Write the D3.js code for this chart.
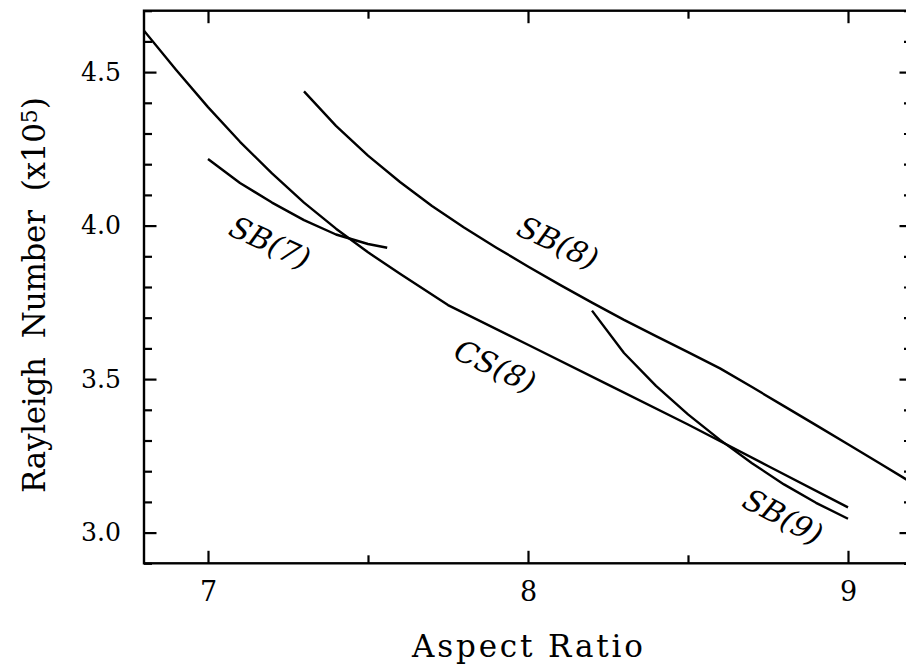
<!DOCTYPE html>
<html>
<head>
<meta charset="utf-8">
<script src="https://cdn.jsdelivr.net/npm/d3@7"></script>
<style>
  html, body { margin: 0; padding: 0; background: #fff; }
  svg { display: block; }
  text { font-family: "DejaVu Serif", serif; fill: #000; }
</style>
</head>
<body>
<svg id="chart"></svg>
<script>
// aspect ratio (x) vs Rayleigh number in units of 1e5 (y)
const cs8X = [6.8, 6.9, 7.0, 7.1, 7.2, 7.3, 7.4, 7.5, 7.6, 7.75, 8.0, 8.25, 8.5, 8.75, 9.0];
const cs8Y = [4.635, 4.508, 4.386, 4.273, 4.17, 4.075, 3.99, 3.913, 3.843, 3.741, 3.612, 3.482, 3.352, 3.217, 3.082];

const sb7X = [7.0, 7.1, 7.2, 7.3, 7.4, 7.5, 7.56];
const sb7Y = [4.217, 4.139, 4.075, 4.018, 3.971, 3.94, 3.928];

const sb8X = [7.3, 7.4, 7.5, 7.6, 7.7, 7.8, 7.9, 8.0, 8.1, 8.2, 8.3, 8.4, 8.5, 8.6, 8.7, 8.8, 8.9, 9.0, 9.1, 9.2];
const sb8Y = [4.437, 4.325, 4.228, 4.142, 4.064, 3.994, 3.929, 3.867, 3.807, 3.749, 3.693, 3.64, 3.588, 3.535, 3.474, 3.412, 3.35, 3.288, 3.225, 3.162];

const sb9X = [8.2, 8.3, 8.4, 8.5, 8.6, 8.7, 8.8, 8.9, 9.0];
const sb9Y = [3.723, 3.585, 3.478, 3.385, 3.302, 3.226, 3.157, 3.097, 3.045];

const curveNames = ["CS(8)", "SB(7)", "SB(8)", "SB(9)"];

const xMajor = [7, 8, 9];
const xMinor = [7.5, 8.5];
const yMajor = [3.0, 3.5, 4.0, 4.5];
const yMinor = [2.9, 3.1, 3.2, 3.3, 3.4, 3.6, 3.7, 3.8, 3.9, 4.1, 4.2, 4.3, 4.4, 4.6, 4.7];

const xTitle = "Aspect Ratio";
const yTitle = "Rayleigh  Number  (x10";

// where the curve names sit, in data units, and their tilt
const labelX = [7.897, 7.194, 8.094, 8.797];
const labelY = [3.542, 3.944, 3.944, 3.052];
const labelAngle = [25, 25, 25, 28];

const W = 906, H = 671;
const plotLeft = 144, plotRight = 912, plotTop = 10.7, plotBottom = 563.3;

const svg = d3.select("#chart").attr("width", W).attr("height", H);

const x = d3.scaleLinear().domain([6.8, 9.2]).range([plotLeft, plotRight]);
const y = d3.scaleLinear().domain([2.9, 4.7]).range([plotBottom, plotTop]);

const series = [
  d3.zip(cs8X, cs8Y),
  d3.zip(sb7X, sb7Y),
  d3.zip(sb8X, sb8Y),
  d3.zip(sb9X, sb9Y)
];

svg.append("clipPath").attr("id", "plot")
  .append("rect")
  .attr("x", plotLeft).attr("y", plotTop)
  .attr("width", plotRight - plotLeft).attr("height", plotBottom - plotTop);

const line = d3.line()
  .x((d) => x(d[0]))
  .y((d) => y(d[1]));

svg.append("g")
  .attr("clip-path", "url(#plot)")
  .selectAll("path")
  .data(series)
  .enter()
  .append("path")
  .attr("d", line)
  .attr("fill", "none")
  .attr("stroke", "#000")
  .attr("stroke-width", 2.4)
  .attr("stroke-linejoin", "round");

// ticks point inward on all four sides
function styleAxis(g) {
  g.select(".domain").remove();
  g.selectAll(".tick line").attr("stroke", "#000").attr("stroke-width", 2.2);
}

function drawTicks(axisFn, scale, values, size, transform) {
  svg.append("g")
    .attr("transform", transform)
    .call(axisFn(scale).tickValues(values).tickSize(-size).tickFormat(""))
    .call(styleAxis);
}

drawTicks(d3.axisBottom, x, xMajor, 12.5, `translate(0,${plotBottom})`);
drawTicks(d3.axisBottom, x, xMinor, 8, `translate(0,${plotBottom})`);
drawTicks(d3.axisTop, x, xMajor, 12.5, `translate(0,${plotTop})`);
drawTicks(d3.axisTop, x, xMinor, 8, `translate(0,${plotTop})`);
drawTicks(d3.axisLeft, y, yMajor, 12.5, `translate(${plotLeft},0)`);
drawTicks(d3.axisLeft, y, yMinor, 8, `translate(${plotLeft},0)`);
drawTicks(d3.axisRight, y, yMajor, 12.5, `translate(${plotRight},0)`);
drawTicks(d3.axisRight, y, yMinor, 8, `translate(${plotRight},0)`);

// tick labels
svg.append("g")
  .attr("transform", `translate(0,${plotBottom})`)
  .call(d3.axisBottom(x).tickValues(xMajor).tickSize(0).tickPadding(19).tickFormat(d3.format("d")))
  .call((g) => g.select(".domain").remove())
  .selectAll("text")
  .attr("font-family", "DejaVu Serif")
  .attr("font-size", 27)
  .attr("fill", "#000");

svg.append("g")
  .attr("transform", `translate(${plotLeft},0)`)
  .call(d3.axisLeft(y).tickValues(yMajor).tickSize(0).tickPadding(23).tickFormat(d3.format(".1f")))
  .call((g) => g.select(".domain").remove())
  .selectAll("text")
  .attr("font-family", "DejaVu Serif")
  .attr("font-size", 26)
  .attr("textLength", 40)
  .attr("lengthAdjust", "spacingAndGlyphs")
  .attr("fill", "#000");

// frame
svg.append("rect")
  .attr("x", plotLeft).attr("y", plotTop)
  .attr("width", plotRight - plotLeft).attr("height", plotBottom - plotTop)
  .attr("fill", "none")
  .attr("stroke", "#000")
  .attr("stroke-width", 2.4);

// axis titles
svg.append("text")
  .attr("x", (412 + 643) / 2)
  .attr("y", 657)
  .attr("text-anchor", "middle")
  .attr("font-size", 31)
  .attr("textLength", 231)
  .attr("lengthAdjust", "spacing")
  .style("white-space", "pre")
  .text(xTitle);

const yt = svg.append("text")
  .attr("transform", "translate(45,493) rotate(-90)")
  .attr("font-size", 31)
  .style("white-space", "pre");
yt.append("tspan").attr("textLength", 370).attr("lengthAdjust", "spacing").text(yTitle);
yt.append("tspan").attr("font-size", 22).attr("dy", -8).text("5");
yt.append("tspan").attr("dy", 8).text(")");

// curve names
svg.append("g")
  .selectAll("text")
  .data(curveNames)
  .enter()
  .append("text")
  .attr("transform", (d, i) => `translate(${x(labelX[i])},${y(labelY[i])}) rotate(${labelAngle[i]})`)
  .attr("text-anchor", "middle")
  .attr("dominant-baseline", "central")
  .attr("font-size", 30)
  .attr("font-style", "italic")
  .text((d) => d);
</script>
</body>
</html>
